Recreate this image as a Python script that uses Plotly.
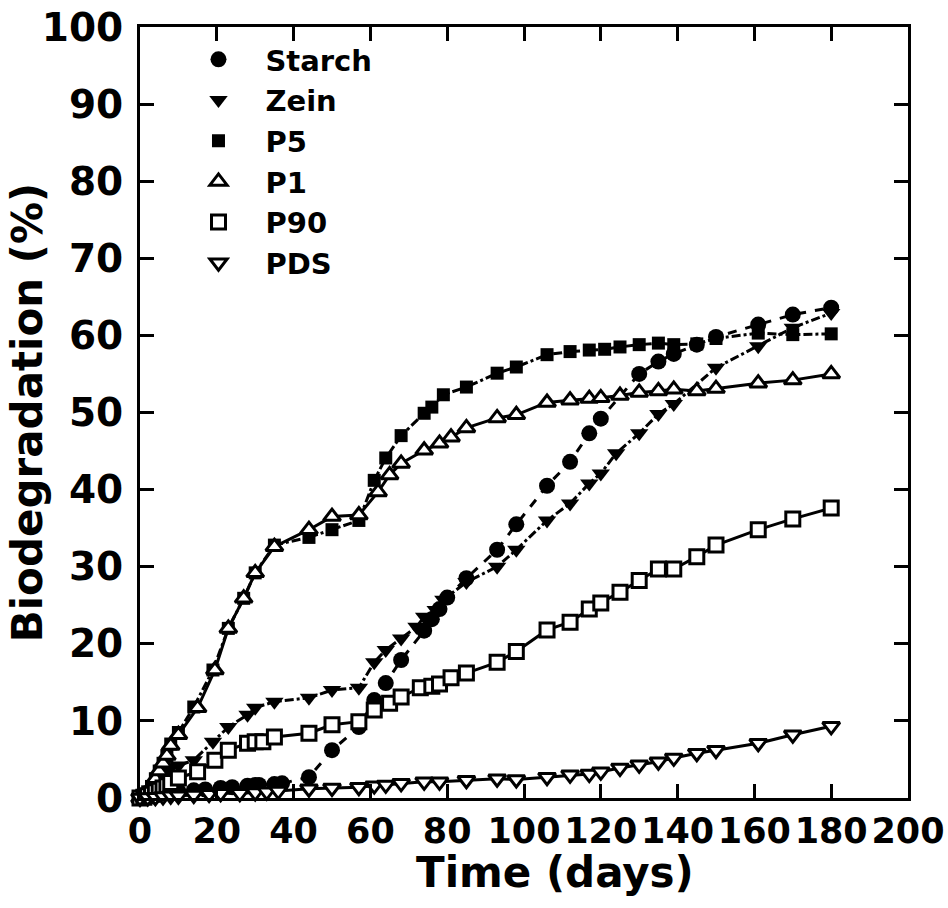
import plotly.graph_objects as go

# ---------------- data ----------------
starch_x = [0, 1, 2, 3, 4, 5, 6, 7, 8, 10, 14, 17, 21, 24, 28, 30, 31, 35, 37, 44, 50, 57, 61, 64, 68, 74, 76, 78, 80, 85, 93, 98, 106, 112, 117, 120, 130, 135, 139, 145, 150, 161, 170, 180]
starch_y = [0, 0.1, 0.2, 0.3, 0.4, 0.5, 0.6, 0.7, 0.8, 0.9, 1.0, 1.1, 1.3, 1.4, 1.6, 1.7, 1.7, 1.8, 1.9, 2.7, 6.2, 9.2, 12.7, 14.9, 17.9, 21.7, 23.2, 24.5, 26.0, 28.5, 32.2, 35.5, 40.5, 43.6, 47.3, 49.2, 55.0, 56.6, 57.6, 58.8, 59.8, 61.4, 62.7, 63.6]

zein_x = [0, 1, 2, 3, 4, 5, 6, 7, 8, 10, 14, 19, 23, 28, 30, 35, 44, 50, 57, 61, 64, 68, 72, 74, 77, 79, 85, 93, 98, 106, 112, 117, 120, 124, 130, 135, 139, 150, 161, 170, 180]
zein_y = [0, 0.2, 0.5, 1.0, 1.5, 2.2, 3.0, 3.5, 4.0, 4.2, 4.9, 7.3, 9.2, 10.8, 11.7, 12.5, 13.0, 14.0, 14.3, 17.6, 19.2, 20.7, 22.2, 23.5, 24.4, 25.7, 28.0, 30.0, 32.2, 36.0, 38.2, 40.8, 42.1, 44.7, 47.3, 49.8, 51.1, 55.8, 58.6, 61.0, 62.9]

p5_x = [0, 1, 2, 3, 4, 5, 6, 7, 8, 10, 14, 19, 23, 27, 30, 35, 44, 50, 57, 61, 64, 68, 74, 76, 79, 85, 93, 98, 106, 112, 117, 121, 125, 130, 135, 139, 145, 150, 161, 170, 180]
p5_y = [0, 0.3, 0.8, 1.5, 2.5, 3.5, 4.5, 5.5, 7.0, 8.5, 11.8, 16.6, 22.0, 25.9, 29.2, 32.8, 33.8, 34.8, 36.0, 41.2, 44.1, 47.0, 49.9, 50.7, 52.3, 53.3, 55.1, 55.9, 57.5, 57.9, 58.1, 58.2, 58.5, 58.8, 59.0, 58.8, 58.9, 59.6, 60.3, 60.1, 60.2]

p1_x = [0, 1, 2, 3, 4, 5, 6, 7, 8, 10, 15, 19.5, 23, 27, 30, 35, 44, 50, 57, 62, 65, 68, 74, 78, 81, 85, 93, 98, 106, 112, 117, 120, 125, 130, 135, 139, 145, 150, 161, 170, 180]
p1_y = [0, 0.3, 0.8, 1.5, 2.5, 3.5, 4.5, 5.5, 6.8, 8.2, 11.7, 16.6, 22.0, 25.9, 29.2, 32.6, 34.8, 36.5, 36.7, 39.7, 41.9, 43.4, 45.1, 46.0, 46.8, 48.0, 49.3, 49.7, 51.3, 51.6, 51.8, 51.9, 52.2, 52.6, 52.8, 53.0, 52.8, 53.1, 53.8, 54.2, 55.0]

p90_x = [0, 1, 2, 3, 4, 5, 6, 7, 8, 10, 15, 19.5, 23, 28, 30, 32, 35, 44, 50, 57, 61, 65, 68, 73, 76, 78, 81, 85, 93, 98, 106, 112, 117, 120, 125, 130, 135, 139, 145, 150, 161, 170, 180]
p90_y = [0, 0.1, 0.3, 0.5, 0.8, 1.0, 1.3, 1.6, 2.0, 2.6, 3.4, 4.9, 6.2, 7.1, 7.3, 7.3, 7.9, 8.4, 9.5, 9.9, 11.4, 12.3, 13.1, 14.3, 14.5, 14.8, 15.6, 16.2, 17.6, 19.0, 21.8, 22.8, 24.5, 25.3, 26.7, 28.2, 29.7, 29.7, 31.3, 32.8, 34.8, 36.2, 37.6]

pds_x = [0, 2, 4, 6, 8, 10, 14, 18, 21, 26, 30, 33, 36, 44, 50, 57, 61, 64, 68, 74, 78, 85, 93, 98, 106, 112, 117, 120, 125, 130, 135, 139, 145, 150, 161, 170, 180]
pds_y = [0, 0.05, 0.1, 0.2, 0.3, 0.3, 0.4, 0.5, 0.6, 0.6, 0.7, 0.8, 0.9, 1.2, 1.3, 1.4, 1.6, 1.7, 1.9, 2.1, 2.1, 2.3, 2.5, 2.4, 2.7, 3.0, 3.1, 3.4, 3.9, 4.3, 4.7, 5.2, 5.8, 6.2, 7.1, 8.2, 9.3]

x_ticks = [0, 20, 40, 60, 80, 100, 120, 140, 160, 180, 200]
y_ticks = [0, 10, 20, 30, 40, 50, 60, 70, 80, 90, 100]
x_title = "Time (days)"
y_title = "Biodegradation (%)"

# ---------------- styling ----------------
FONT = "DejaVu Sans"
series = [
    ("Starch", starch_x, starch_y, dict(symbol="circle", size=16, color="black", line=dict(width=0)), "dash"),
    ("Zein", zein_x, zein_y, dict(symbol="triangle-down", size=16, color="black", line=dict(width=0)), "dashdot"),
    ("P5", p5_x, p5_y, dict(symbol="square", size=13, color="black", line=dict(width=0)), "dashdot"),
    ("P1", p1_x, p1_y, dict(symbol="triangle-up", size=15, color="white", line=dict(width=3, color="black")), "solid"),
    ("P90", p90_x, p90_y, dict(symbol="square", size=14, color="white", line=dict(width=3, color="black")), "solid"),
    ("PDS", pds_x, pds_y, dict(symbol="triangle-down", size=15, color="white", line=dict(width=3, color="black")), "solid"),
]

fig = go.Figure()
for name, xs, ys, mk, dash in series:
    fig.add_trace(go.Scatter(
        x=xs, y=ys, mode="lines+markers", name=name, showlegend=False,
        line=dict(color="black", width=3, dash=dash),
        marker=mk, cliponaxis=False,
    ))
# legend entries (markers only)
for name, xs, ys, mk, dash in series:
    fig.add_trace(go.Scatter(
        x=[None], y=[None], mode="markers", name=name, marker=mk, showlegend=True,
    ))

axis_common = dict(
    showline=True, linecolor="black", linewidth=3, mirror="ticks",
    ticks="inside", ticklen=14, tickwidth=3, tickcolor="black",
    showgrid=False, zeroline=False, automargin=False,
)

fig.update_layout(
    width=948, height=908,
    margin=dict(l=140, r=40, t=27, b=110),
    paper_bgcolor="white", plot_bgcolor="white",
    font=dict(family=FONT, color="black"),
    xaxis=dict(range=[0, 200], tickvals=x_ticks, ticktext=[str(v) for v in x_ticks],
               tickfont=dict(family=FONT, size=35, color="black", weight="bold"),
               **axis_common),
    yaxis=dict(range=[0, 100], tickvals=y_ticks, ticktext=[str(v) for v in y_ticks],
               tickfont=dict(family=FONT, size=39, color="black", weight="bold"),
               ticklabelstandoff=6,
               **axis_common),
    legend=dict(x=0.041, y=0.991, xanchor="left", yanchor="top",
                bgcolor="rgba(0,0,0,0)", borderwidth=0,
                font=dict(family=FONT, size=29, color="black", weight="bold"),
                tracegroupgap=0, itemsizing="trace", itemwidth=84),
    annotations=[
        dict(text=x_title, xref="paper", yref="paper", x=0.54, y=-0.097,
             xanchor="center", yanchor="middle", showarrow=False,
             font=dict(family=FONT, size=42, color="black", weight="bold")),
        dict(text=y_title, xref="paper", yref="paper", x=-0.146, y=0.5,
             xanchor="center", yanchor="middle", showarrow=False, textangle=-90,
             font=dict(family=FONT, size=42, color="black", weight="bold")),
    ],
)

fig.write_html("out.html")
